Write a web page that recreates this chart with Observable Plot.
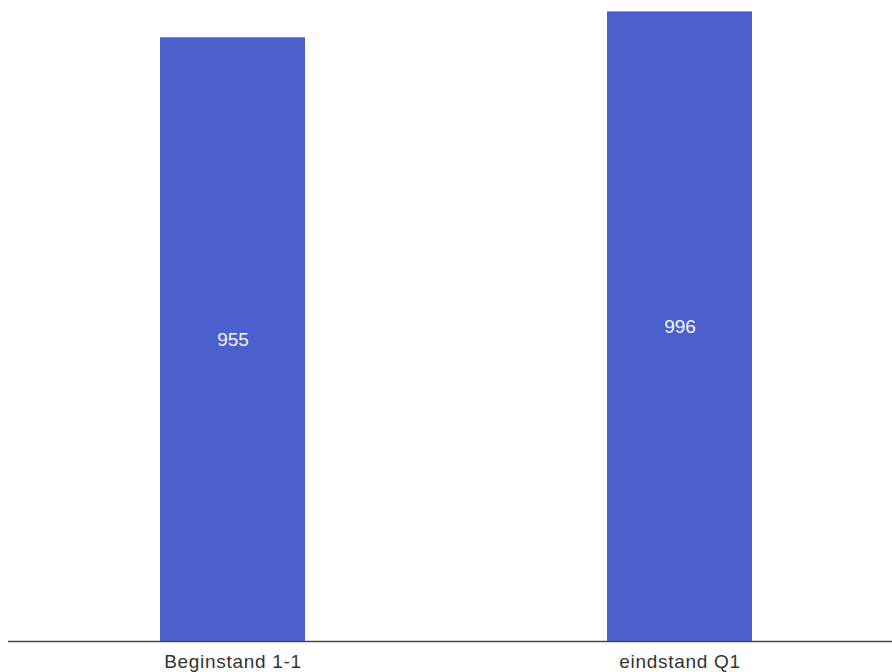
<!DOCTYPE html>
<html>
<head>
<meta charset="utf-8">
<script src="https://cdn.jsdelivr.net/npm/d3@7"></script>
<script src="https://cdn.jsdelivr.net/npm/@observablehq/plot@0.6"></script>
<style>
  html, body { margin: 0; padding: 0; background: #ffffff; }
  #chart { width: 892px; height: 672px; }
  svg { font-family: "Liberation Sans", Arial, sans-serif; }
  svg g[aria-label="x-axis tick label"] text { letter-spacing: 0.7px; }
</style>
</head>
<body>
<div id="chart"></div>
<script>
const categories = ["Beginstand 1-1", "eindstand Q1"];
const values = [955, 996];
const valueLabels = ["955", "996"];

const data = categories.map((c, i) => ({category: c, value: values[i], label: valueLabels[i]}));

const chart = Plot.plot({
  width: 892,
  height: 672,
  marginTop: 0,
  marginBottom: 31,
  marginLeft: 8,
  marginRight: 0,
  style: {background: "#ffffff", fontFamily: "'Liberation Sans', Arial, sans-serif"},
  x: {domain: categories, paddingInner: 0.675, paddingOuter: 0.3246, align: 0.521, label: null},
  y: {domain: [0, 1014], axis: null},
  marks: [
    Plot.barY(data, {x: "category", y: "value", fill: "#4b60cd"}),
    Plot.text(data, {x: "category", y: d => d.value / 2, text: "label", fill: "#f2f4ff", fontSize: 19}),
    Plot.ruleY([0], {stroke: "#4a4a4a", strokeWidth: 1.5}),
    Plot.axisX({tickSize: 0, tickPadding: 13, fontSize: 19, fill: "#333333", label: null})
  ]
});
document.getElementById("chart").appendChild(chart);
</script>
</body>
</html>
